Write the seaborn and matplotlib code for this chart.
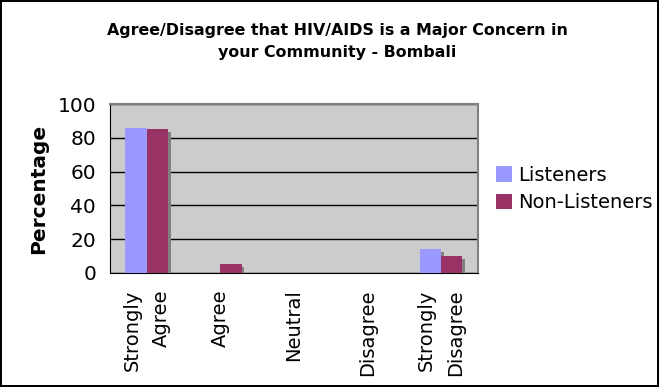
import pandas as pd
import seaborn as sns
import matplotlib.pyplot as plt
import matplotlib.patheffects as pe

# data
categories = ['Strongly\nAgree', 'Agree', 'Neutral', 'Disagree', 'Strongly\nDisagree']
listeners = [86, 0, 0, 0, 14]
non_listeners = [85, 5, 0, 0, 10]
series = ['Listeners', 'Non-Listeners']

df = pd.DataFrame({
    'Response': categories * 2,
    'Group': [series[0]] * 5 + [series[1]] * 5,
    'Percentage': listeners + non_listeners,
})

sns.set_style('white')
plt.rcParams['font.family'] = ['DejaVu Sans']
plt.rcParams['text.color'] = 'black'
plt.rcParams['axes.labelcolor'] = 'black'
plt.rcParams['xtick.color'] = 'black'
plt.rcParams['ytick.color'] = 'black'

fig = plt.figure(figsize=(6.59, 3.87), dpi=100, edgecolor='black', linewidth=1.5)
ax = fig.add_axes([0.167, 0.295, 0.558, 0.436])
ax.set_facecolor('#CCCCCC')

sns.barplot(data=df, x='Response', y='Percentage', hue='Group', order=categories,
            palette=['#9999FF', '#993366'], width=0.58, gap=0, saturation=1,
            linewidth=0, ax=ax, zorder=3)

# little grey drop shadow like the original
for bar in ax.patches:
    bar.set_path_effects([pe.SimplePatchShadow(offset=(2, -2), shadow_rgbFace='#808080', alpha=1),
                          pe.Normal()])

ax.set_ylim(0, 100)
ax.set_xlim(-0.5, 4.5)
ax.set_yticks(range(0, 101, 20))
ax.yaxis.grid(True, color='black', linewidth=1, zorder=0)
ax.set_axisbelow(True)

# ticks between categories
ax.set_xticks([i - 0.5 for i in range(6)], minor=True)
ax.tick_params(axis='x', which='major', length=0, pad=12)
ax.tick_params(axis='x', which='minor', length=5, color='black', direction='out')
ax.tick_params(axis='y', length=5, color='black', direction='out', labelsize=14.5, pad=5)
for lbl in ax.get_xticklabels():
    lbl.set_rotation(90)
    lbl.set_fontsize(14)
    lbl.set_ha('center')
    lbl.set_va('top')
    lbl.set_multialignment('right')
    lbl.set_linespacing(1.7)

ax.set_xlabel('')
ax.set_ylabel('Percentage', fontsize=14.5, fontweight='bold', labelpad=7)

for s in ['left', 'bottom']:
    ax.spines[s].set_color('black')
for s in ['top', 'right']:
    ax.spines[s].set_color('#808080')
    ax.spines[s].set_linewidth(1.5)

leg = ax.legend(title=None, frameon=False, fontsize=14, loc='center left',
                bbox_to_anchor=(0.753, 0.512), bbox_transform=fig.transFigure,
                borderaxespad=0, borderpad=0, handlelength=0.82, handleheight=0.82,
                handletextpad=0.3, labelspacing=0.42)
for h in leg.legend_handles:
    h.set_path_effects([])

fig.text(0.512, 0.893, 'Agree/Disagree that HIV/AIDS is a Major Concern in\nyour Community - Bombali',
         ha='center', va='center', fontsize=11.4, fontweight='bold', linespacing=1.52)

fig.savefig('out.png', dpi=100, edgecolor=fig.get_edgecolor())
